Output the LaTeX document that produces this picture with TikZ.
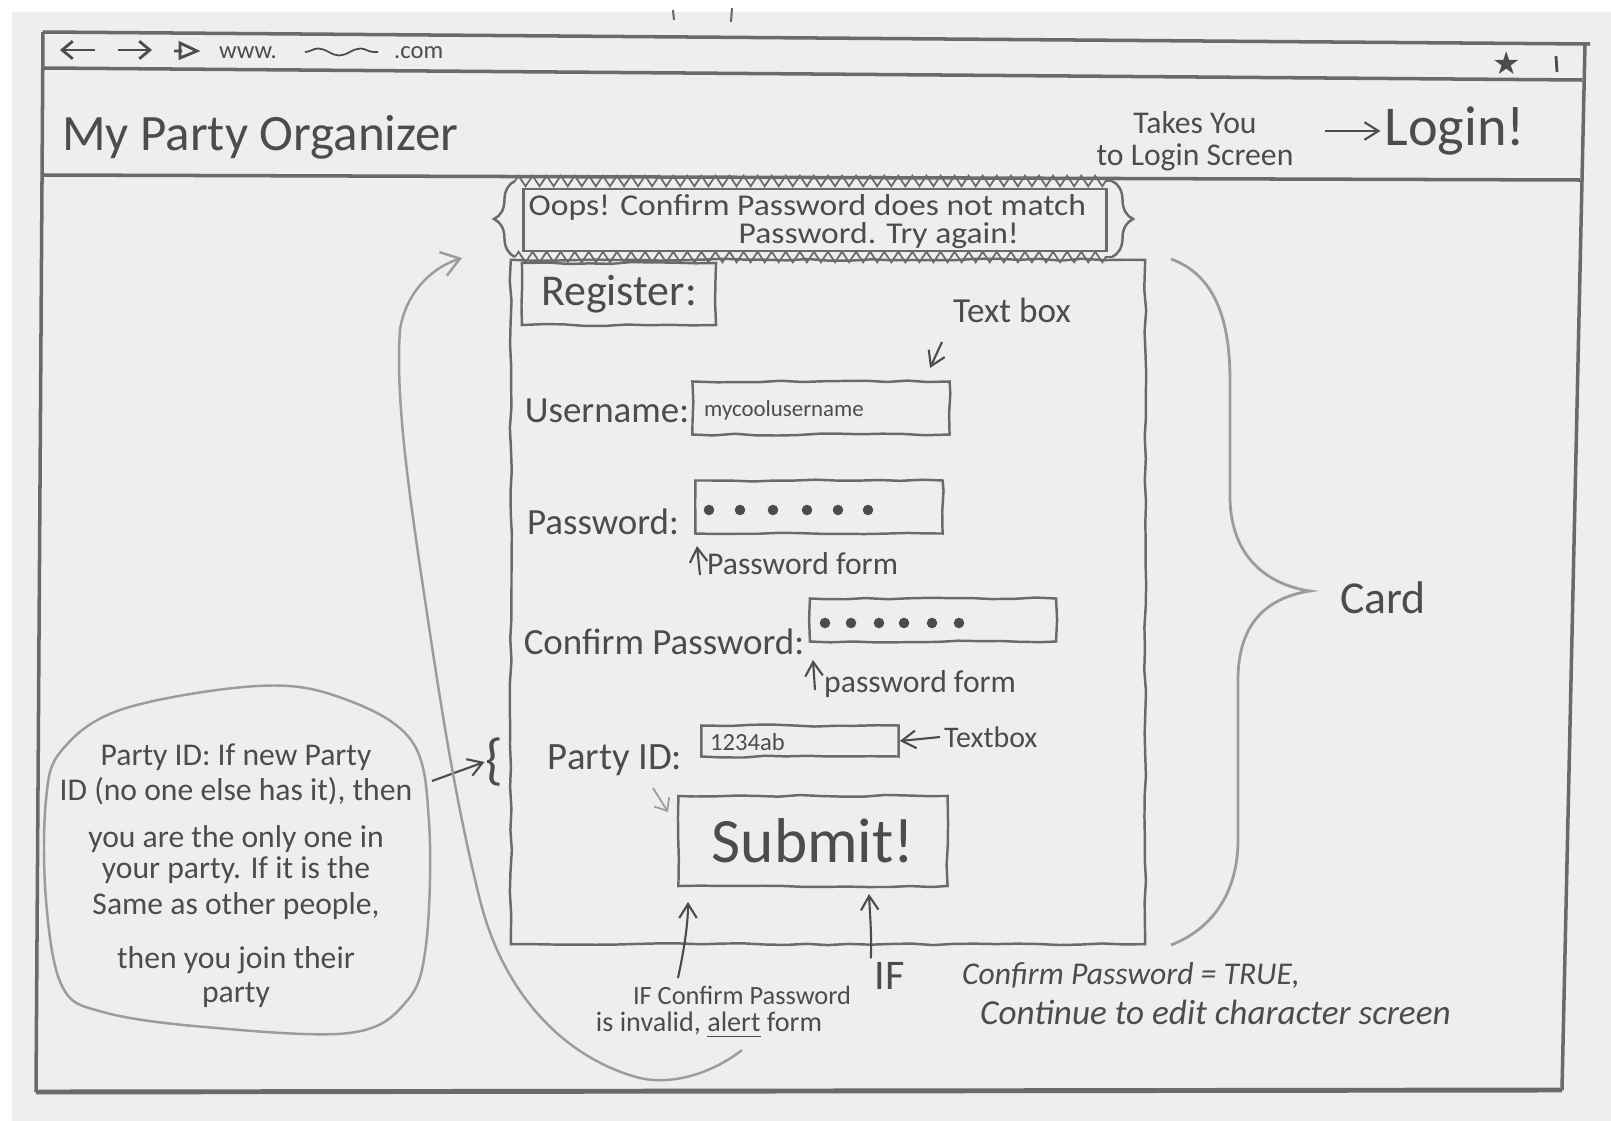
\documentclass[tikz,border=0pt]{standalone}
\usepackage{fontspec}
\setmainfont{Carlito}
\newfontfamily\symfont{DejaVu Sans}
\usetikzlibrary{decorations.pathmorphing,decorations.pathreplacing,arrows.meta,calc}
\definecolor{paper}{HTML}{EEEEEE}
\definecolor{ink}{HTML}{4C4C4C}
\definecolor{lead}{HTML}{6A6A6A}
\definecolor{faint}{HTML}{9C9C9C}
\newcommand\fsz[1]{\fontsize{#1}{#1}\selectfont}

\begin{document}
\begin{tikzpicture}[x=0.01cm,y=-0.01cm,
  frame/.style={draw=lead, line width=1pt},
  sketch/.style={draw=lead, line width=0.7pt, decorate,
    decoration={random steps, segment length=6pt, amplitude=0.3pt}},
  field/.style={sketch, inner sep=0pt},
  hand/.style={text=ink, inner sep=1pt},
  arr/.style={-{Straight Barb[length=4pt,width=5pt]}, draw=ink, line width=0.6pt},
  dot/.style={fill=ink},
]
\pgfmathsetseed{11}
\useasboundingbox (0,0) rectangle (1611,1121);
\fill[white] (0,0) rectangle (1611,1121);
\fill[paper] (12,12) rectangle (1611,1121);

% browser window
\draw[frame] (43,32) -- (1590,44);
\draw[frame] (43,32) -- (36,1092);
\draw[frame] (1585,44) -- (1562,1090);
\draw[frame] (43,68) -- (1582,80);
\draw[frame] (43,175) -- (1580,180);
\draw[frame, line width=1.4pt] (36,1092) -- (1562,1090);
\draw[lead, line width=0.6pt] (673,10) -- (674,20) (732,8) -- (731,22);

% address bar
\draw[ink, line width=0.8pt, -{Straight Barb[length=3pt,width=5pt]}] (95,50) -- (60,50);
\draw[ink, line width=0.8pt, -{Straight Barb[length=3pt,width=5pt]}] (118,50) -- (152,50);
\draw[ink, line width=0.8pt] (180,43) -- (197,51) -- (180,58) -- cycle (174,51) -- (182,51);
\node[hand, anchor=west] (www) at (215,53) {\fsz{7}www.};
\draw[ink, line width=0.5pt, decorate, decoration={snake, amplitude=1pt, segment length=12pt}] (305,52) -- (378,52);
\node[hand, anchor=west] (dotcom) at (390,53) {\fsz{7}.com};
\node[hand] (star) at (1507,63) {\symfont\fsz{9}★};
\draw[ink, line width=0.8pt] (1556,56) -- (1557,72);

% header
\node[hand, anchor=west] (title) at (58,137) {\fsz{14.5}My Party Organizer};
\node[hand, align=center, font=\fontsize{9}{9}\selectfont] (takes) at (1195,141) {Takes You\\to Login Screen};
\node[hand] (login) at (1455,131) {\fsz{16}Login!};
\coordinate (takesarrow) at (1325,131);
\draw[arr] (takesarrow) -- (login.west);

% error message
\node[draw=lead, line width=0.7pt, minimum width=5.83cm, minimum height=0.62cm, inner sep=0pt] (oops) at (815,220) {};
\draw[lead, line width=0.5pt, decorate, decoration={zigzag, amplitude=1.5pt, segment length=4pt}] (515,181) -- (1112,181);
\draw[lead, line width=0.5pt, decorate, decoration={zigzag, amplitude=1.5pt, segment length=4pt}] (515,257) -- (1112,257);
\draw[lead, line width=0.7pt, decorate, decoration={brace, amplitude=6pt}] (515,257) -- (515,181);
\draw[lead, line width=0.7pt, decorate, decoration={brace, amplitude=6pt}] (1112,181) -- (1112,257);
\node[text=ink, inner sep=0pt, anchor=west] (oopsA) at (528,207) {\fsz{8.6}\scalebox{1.11}[1]{Oops! Confirm Password does not match}};
\node[text=ink, inner sep=0pt, anchor=west] (oopsB) at (738,236) {\fsz{8.6}\scalebox{1.11}[1]{Password. Try again!}};

% card
\node[sketch, minimum width=6.34cm, minimum height=6.84cm, inner sep=0pt] (card) at (828,602) {};
\node[sketch, minimum width=1.94cm, minimum height=0.62cm, inner sep=0pt] (register) at (619,294) {\color{ink}\fsz{12.5}Register:};

\node[hand] (textboxlbl) at (1012,310) {\fsz{10}Text box};
\coordinate (tbstart) at (942,342);
\coordinate (tbend) at (930,368);
\draw[arr] (tbstart) -- (tbend);

\node[hand] (userlbl) at (607,411) {\fsz{10.5}Username:};
\node[field, minimum width=2.57cm, minimum height=0.53cm] (userbox) at (821,408) {};
\node[hand, anchor=west] (userval) at (700,410) {\fsz{6.5}mycoolusername};

\node[hand] (pwlbl) at (603,522) {\fsz{10.5}Password:};
\node[field, minimum width=2.47cm, minimum height=0.53cm] (pwbox) at (819,507) {};
\foreach \x in {709,740,773,807,838,868} \fill[dot] (\x,510) circle[radius=1.5pt];
\coordinate (pwfoot) at (700,575);
\draw[arr] (pwfoot) -- (697,546);
\node[hand, anchor=west] (pwnote) at (703,564) {\fsz{9}Password form};

\node[hand] (cpwlbl) at (664,642) {\fsz{10.5}Confirm Password:};
\node[field, minimum width=2.46cm, minimum height=0.43cm] (cpwbox) at (933,620) {};
\foreach \x in {825,851,879,904,932,959} \fill[dot] (\x,623) circle[radius=1.5pt];
\coordinate (cpwfoot) at (815,690);
\draw[arr] (cpwfoot) -- (813,660);
\node[hand, anchor=west] (cpwnote) at (820,684) {\fsz{9}password form};

\node[hand] (pidlbl) at (615,760) {\fsz{11}Party ID:};
\node[field, minimum width=1.97cm, minimum height=0.31cm] (pidbox) at (800,741) {};
\node[hand, anchor=west] (pidval) at (706,742) {\fsz{7}1234ab};
\node[hand, anchor=west] (pidnote) at (940,737) {\fsz{8.5}Textbox};
\draw[arr] (pidnote.west) -- (pidbox.east);
\coordinate (pidhint) at (653,788);
\coordinate (pidhintend) at (668,812);
\draw[faint, line width=0.5pt, -{Straight Barb[length=3pt,width=5pt]}] (pidhint) -- (pidhintend);

\node[sketch, minimum width=2.69cm, minimum height=0.90cm, inner sep=0pt] (submit) at (813,841) {\color{ink}\fsz{18}Submit!};

% notes under the card
\node[hand] (alertA) at (742,995) {\fsz{7.5}IF Confirm Password};
\node[hand] (alertB) at (709,1025) {\fsz{8}is invalid, \underline{alert} form};
\coordinate (alertfoot) at (678,978);
\coordinate (alerttip) at (688,902);
\draw[arr] (alertfoot) .. controls (684,950) and (688,925) .. (alerttip);

\node[hand] (iftrue) at (890,976) {\fsz{12}IF};
\node[hand, anchor=west] (trueA) at (958,976) {\fsz{9}\itshape Confirm Password = TRUE,};
\node[hand, anchor=west] (trueB) at (976,1012) {\fsz{10}\itshape Continue to edit character screen};
\coordinate (truetip) at (869,894);
\draw[arr] (iftrue.north west) .. controls (872,940) and (870,915) .. (truetip);

% card brace
\draw[faint, line width=0.8pt] (1171,259) .. controls (1215,275) and (1230,320) .. (1230,380)
  -- (1230,500) .. controls (1232,560) and (1270,585) .. (1310,591)
  .. controls (1265,598) and (1238,625) .. (1238,680)
  -- (1238,840) .. controls (1238,895) and (1210,930) .. (1171,945);
\node[hand] (cardlbl) at (1383,598) {\fsz{13}Card};

% party id note
\draw[faint, line width=0.7pt] plot[smooth cycle, tension=0.6] coordinates {
  (62,750) (123,709) (257,686) (339,697) (411,740) (429,822) (426,945)
  (406,1002) (349,1033) (205,1027) (103,1012) (62,986) (46,900) (46,800)};
\node[hand, align=center, font=\fontsize{9}{9}\selectfont] (partynote) at (236,876) {%
  Party ID: If new Party\\[1pt]
  ID (no one else has it), then\\[4.4pt]
  you are the only one in\\[-0.2pt]
  your party. If it is the\\[1pt]
  Same as other people,\\[6.6pt]
  then you join their\\[0.7pt]
  party};
\coordinate (noteedge) at (432,781);
\node[text=ink, inner sep=0pt] (pidbrace) at (494,762) {\fsz{16}\{};
\draw[arr] (noteedge) -- (pidbrace.west);

% loop back to the error message
\coordinate (loopstart) at (742,1050);
\coordinate (looptip) at (462,258);
\draw[faint, line width=0.7pt, -{Straight Barb[length=5pt,width=7pt]}] (loopstart)
  .. controls (710,1075) and (670,1085) .. (640,1078)
  .. controls (570,1060) and (505,1000) .. (480,900)
  .. controls (455,800) and (440,700) .. (425,600)
  .. controls (410,500) and (395,400) .. (400,330)
  .. controls (405,295) and (430,268) .. (looptip);
\end{tikzpicture}
\end{document}
